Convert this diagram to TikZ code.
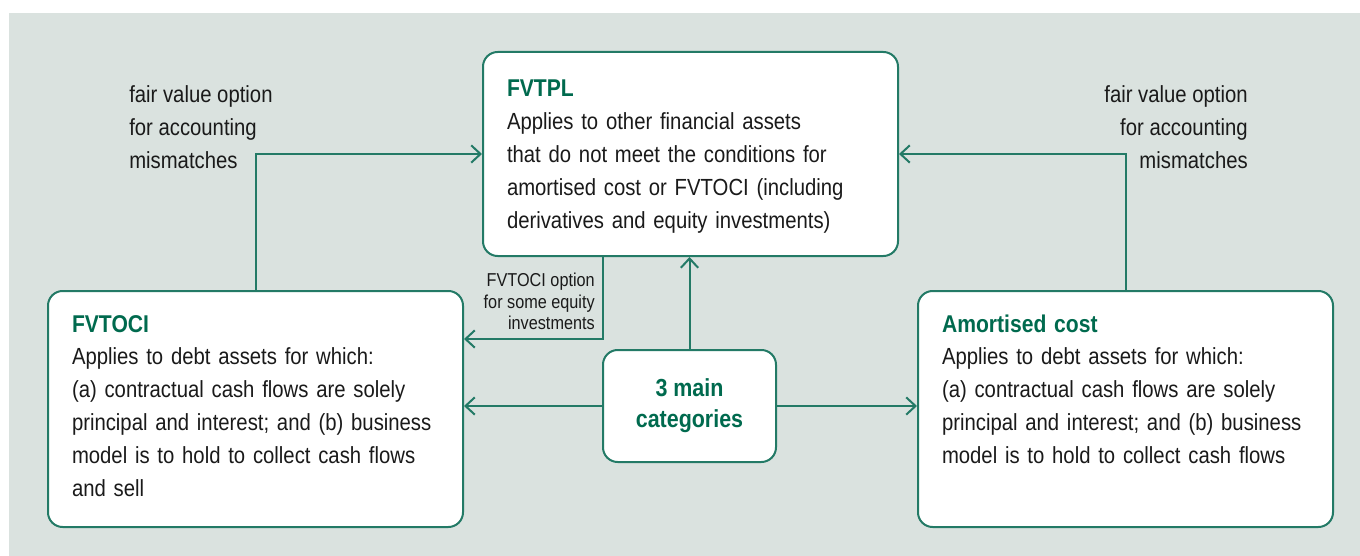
\documentclass[tikz,border=0pt]{standalone}
\usepackage{fontspec}
\setmainfont{Liberation Sans}[FakeStretch=0.87]
\usetikzlibrary{arrows.meta}
\definecolor{bggrey}{HTML}{DAE2DF}
\definecolor{linegreen}{HTML}{237A66}
\definecolor{titlegreen}{HTML}{006A4E}
\definecolor{bodytext}{HTML}{1A1A1A}
\hyphenpenalty=10000
\newcommand{\hd}[1]{{\fontsize{18.2}{24.6}\selectfont\bfseries\color{titlegreen}#1}}
\tikzset{>={Straight Barb[length=7pt,width=13pt]},
  catbox/.style={draw=linegreen, line width=1.5pt, fill=white, rounded corners=11pt,
    inner xsep=18pt, inner ysep=0pt, text width=275.25pt, align=left, anchor=north west,
    font=\fontsize{17.5}{24.6}\selectfont, text=bodytext},
  lbl/.style={inner sep=0pt, text=bodytext, font=\fontsize{17.5}{25}\selectfont},
  conn/.style={draw=linegreen, line width=1.5pt, ->}}

\begin{document}
\begin{tikzpicture}[x=0.75pt, y=-0.75pt]
  \useasboundingbox (0,0) rectangle (1360,556);
  \fill[bggrey] (9,13) rectangle (1360,556);

  \node (FVTPL) [catbox, text height=33.75pt, text depth=119.25pt] at (482,51)
    {\hd{FVTPL}\\Applies to other financial assets\\that do not meet the conditions for\\amortised cost or FVTOCI (including\\derivatives and equity investments)};
  \node (OCI) [catbox, text height=30.75pt, text depth=146.25pt] at (47,290)
    {\hd{FVTOCI}\\Applies to debt assets for which:\\(a) contractual cash flows are solely\\principal and interest; and (b) business\\model is to hold to collect cash flows\\and sell};
  \node (AC) [catbox, text height=30.75pt, text depth=146.25pt] at (917,290)
    {\hd{Amortised cost}\\Applies to debt assets for which:\\(a) contractual cash flows are solely\\principal and interest; and (b) business\\model is to hold to collect cash flows};
  \node (M) [draw=linegreen, line width=1.5pt, fill=white, rounded corners=11pt, inner sep=0pt,
    minimum width=129.75pt, minimum height=84pt, align=center, text=titlegreen,
    font=\bfseries\fontsize{18.5}{23}\selectfont] at (689.5,406) {3 main\\categories};

  \node (LL) [lbl, anchor=north west, align=left] at (129,85) {fair value option\\for accounting\\mismatches};
  \node (RL) [lbl, anchor=north east, align=right] at (1248,85) {fair value option\\for accounting\\mismatches};
  \node (OL) [lbl, anchor=north east, align=right, font=\fontsize{14}{16.1}\selectfont] at (595,273)
    {FVTOCI option\\for some equity\\investments};

  \coordinate (turn) at (603,339);
  \draw[conn] (OCI.north) |- (FVTPL.west);
  \draw[conn] (AC.north) |- (FVTPL.east);
  \draw[conn] (FVTPL.south -| turn) |- (OCI.east |- turn);
  \draw[conn] (M.north) -- (FVTPL.south -| M.north);
  \draw[conn] (M.west) -- (OCI.east |- M.west);
  \draw[conn] (M.east) -- (AC.west |- M.east);
\end{tikzpicture}
\end{document}
